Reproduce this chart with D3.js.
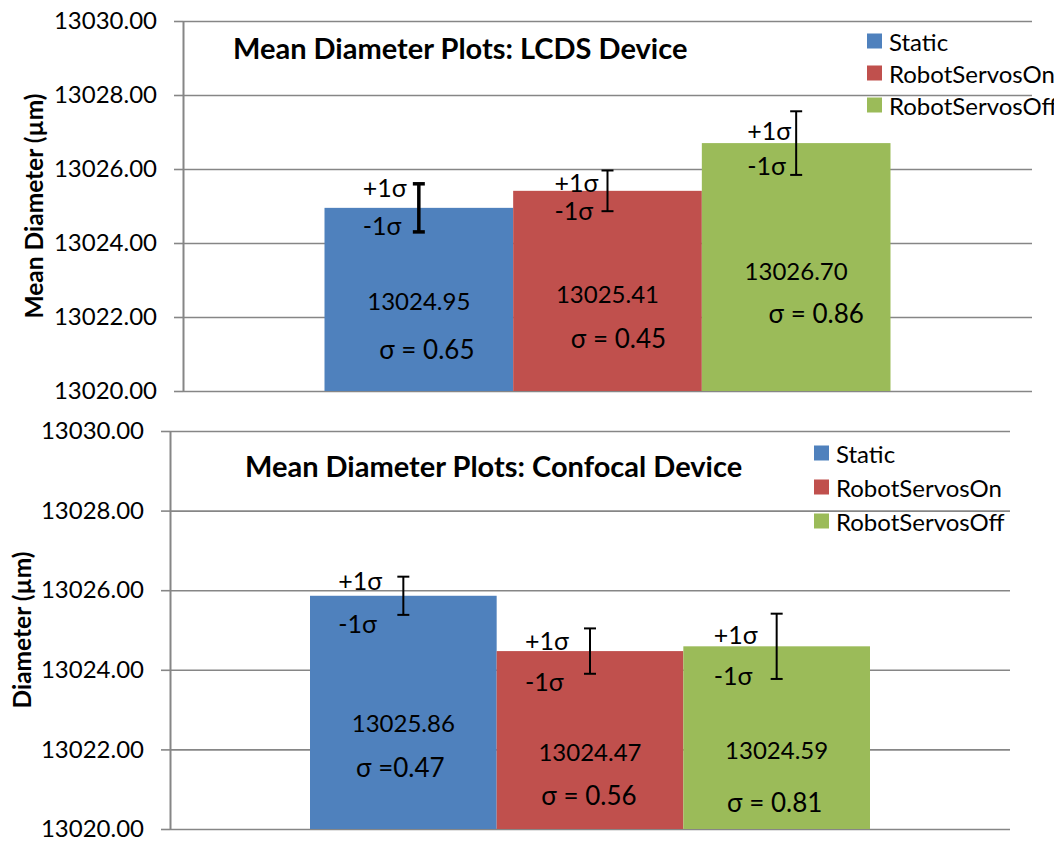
<!DOCTYPE html>
<html>
	<head>
		<meta charset="utf-8">
		<title>Mean Diameter Plots</title>
		<script src="https://cdn.jsdelivr.net/npm/d3@7"></script>
		<style>
			body { margin: 0; background: #fff; }
			text { font-family: Lato, 'Open Sans', sans-serif; fill: #000; }
		</style>
	</head>
	<body>
		<div id='viz'></div>
		<script>
			// data
			var series = ['Static', 'RobotServosOn', 'RobotServosOff'];
			var colorList = ['#4F81BD', '#C0504D', '#9BBB59'];
			var yTicks = [13020, 13022, 13024, 13026, 13028, 13030];

			var lcdsMeans = [13024.95, 13025.41, 13026.70];
			var lcdsSigma = [0.65, 0.45, 0.86];
			var lcdsErrBar = [0.65, 0.55, 0.86];   // half length of the drawn bars
			var lcdsSigmaText = ['σ = 0.65', 'σ = 0.45', 'σ = 0.86'];

			var confMeans = [13025.86, 13024.47, 13024.59];
			var confSigma = [0.47, 0.56, 0.81];
			var confErrBar = [0.48, 0.57, 0.82];
			var confSigmaText = ['σ =0.47', 'σ = 0.56', 'σ = 0.81'];

			var width = 1063,
				height = 842;

			var svg = d3.select('#viz')
				.append('svg')
				.attr('width', width)
				.attr('height', height);

			svg.append('rect').attr('width', width).attr('height', height).attr('fill', '#fff');

			svg.append('clipPath').attr('id', 'clipTop')
				.append('rect').attr('x', 0).attr('y', 0).attr('width', 1054).attr('height', 420);

			var panels = [
				{
					title: 'Mean Diameter Plots: LCDS Device', yTitle: 'Mean Diameter (µm)',
					means: lcdsMeans, sigma: lcdsSigma, err: lcdsErrBar, sigmaText: lcdsSigmaText,
					left: 183, right: 1032, top: 21, bottom: 391,
					titleX: 233, titleY: 47, yTitleX: 33, yTitleY: 206,
					legX: 867, legY: [41, 73, 105], clip: 'url(#clipTop)',
					errWidth: [3.5, 2, 2],
					plusDx: [-56, -53, -49], plusY: [187, 182, 130], minusY: [225, 210, 165],
					valY: [300, 293, 270], sigDx: [8, 11, 20], sigY: [349, 338, 313]
				},
				{
					title: 'Mean Diameter Plots: Confocal Device', yTitle: 'Diameter (µm)',
					means: confMeans, sigma: confSigma, err: confErrBar, sigmaText: confSigmaText,
					left: 170, right: 1010, top: 431, bottom: 829,
					titleX: 245, titleY: 465, yTitleX: 21, yTitleY: 630,
					legX: 814, legY: [453, 487, 521], clip: null,
					errWidth: [2, 2, 2],
					plusDx: [-65, -65, -63], plusY: [580, 640, 634], minusY: [623, 681, 675],
					valY: [722, 751, 749], sigDx: [-3, -1, -2], sigY: [767, 795, 802]
				}
			];

			panels.forEach(function(p){
				var g = svg.append('g').attr('clip-path', p.clip);

				var y = d3.scaleLinear().domain([13020, 13030]).range([p.bottom, p.top]);
				var x0 = d3.scaleBand().domain(['all']).range([p.left, p.right]).paddingOuter(0.25);
				var x1 = d3.scaleBand().domain(series).range([0, x0.bandwidth()]);

				// grid lines
				g.append('g')
					.attr('transform', `translate(${p.left},0)`)
					.call(d3.axisLeft(y).tickValues(yTicks).tickSize(-(p.right - p.left)).tickFormat(''))
					.call(a => a.select('.domain').remove())
					.selectAll('line').attr('stroke', '#868686').attr('stroke-width', 1.6);

				// left axis with ticks and labels
				var ax = g.append('g')
					.attr('transform', `translate(${p.left},0)`)
					.call(d3.axisLeft(y).tickValues(yTicks).tickSize(9).tickSizeOuter(0).tickPadding(17).tickFormat(d3.format('.2f')));
				ax.select('.domain').attr('stroke', '#868686').attr('stroke-width', 2);
				ax.selectAll('line').attr('stroke', '#868686').attr('stroke-width', 1.6);
				ax.selectAll('text').attr('font-size', 24).attr('font-family', 'Lato');

				// bars
				var bars = series.map((s, i) => ({name: s, i: i, value: p.means[i]}));
				g.append('g')
					.selectAll('rect')
					.data(bars)
					.join('rect')
					.attr('x', d => x0('all') + x1(d.name))
					.attr('width', x1.bandwidth())
					.attr('y', d => y(d.value))
					.attr('height', d => y(13020) - y(d.value))
					.attr('fill', d => colorList[d.i]);

				var cx = d => x0('all') + x1(d.name) + x1.bandwidth() / 2;

				// error bars
				var eb = g.append('g').selectAll('g').data(bars).join('g')
					.attr('stroke', '#000')
					.attr('stroke-width', d => p.errWidth[d.i]);
				eb.append('line')
					.attr('x1', cx).attr('x2', cx)
					.attr('y1', d => y(d.value + p.err[d.i]))
					.attr('y2', d => y(d.value - p.err[d.i]));
				eb.append('line')
					.attr('x1', d => cx(d) - 6).attr('x2', d => cx(d) + 6)
					.attr('y1', d => y(d.value + p.err[d.i])).attr('y2', d => y(d.value + p.err[d.i]));
				eb.append('line')
					.attr('x1', d => cx(d) - 6).attr('x2', d => cx(d) + 6)
					.attr('y1', d => y(d.value - p.err[d.i])).attr('y2', d => y(d.value - p.err[d.i]));

				// +1σ / -1σ and value notes
				var notes = g.append('g').attr('dominant-baseline', 'central');
				notes.selectAll('.plus').data(bars).join('text')
					.attr('x', d => cx(d) + p.plusDx[d.i]).attr('y', d => p.plusY[d.i])
					.attr('font-size', 25).text('+1σ');
				notes.selectAll('.minus').data(bars).join('text')
					.attr('x', d => cx(d) + p.plusDx[d.i]).attr('y', d => p.minusY[d.i])
					.attr('font-size', 25).text('-1σ');
				notes.selectAll('.val').data(bars).join('text')
					.attr('x', cx).attr('y', d => p.valY[d.i])
					.attr('text-anchor', 'middle').attr('font-size', 24)
					.text(d => d3.format('.2f')(d.value));
				notes.selectAll('.sig').data(bars).join('text')
					.attr('x', d => cx(d) + p.sigDx[d.i]).attr('y', d => p.sigY[d.i])
					.attr('text-anchor', 'middle').attr('font-size', 26)
					.text(d => p.sigmaText[d.i]);

				// titles
				g.append('text')
					.attr('x', p.titleX).attr('y', p.titleY)
					.attr('dominant-baseline', 'central')
					.attr('font-size', 29).attr('font-weight', 'bold')
					.text(p.title);
				g.append('text')
					.attr('transform', `translate(${p.yTitleX},${p.yTitleY}) rotate(-90)`)
					.attr('text-anchor', 'middle').attr('dominant-baseline', 'central')
					.attr('font-size', 24.5).attr('font-weight', 'bold')
					.text(p.yTitle);

				// legend
				var leg = g.append('g').selectAll('g').data(series).join('g')
					.attr('transform', (d, i) => `translate(${p.legX},${p.legY[i]})`);
				leg.append('rect')
					.attr('x', 0).attr('y', -7.5).attr('width', 15).attr('height', 15)
					.attr('fill', (d, i) => colorList[i]);
				leg.append('text')
					.attr('x', 22).attr('dominant-baseline', 'central')
					.attr('font-size', 24)
					.text(d => d);
			});
		</script>
	</body>
</html>
